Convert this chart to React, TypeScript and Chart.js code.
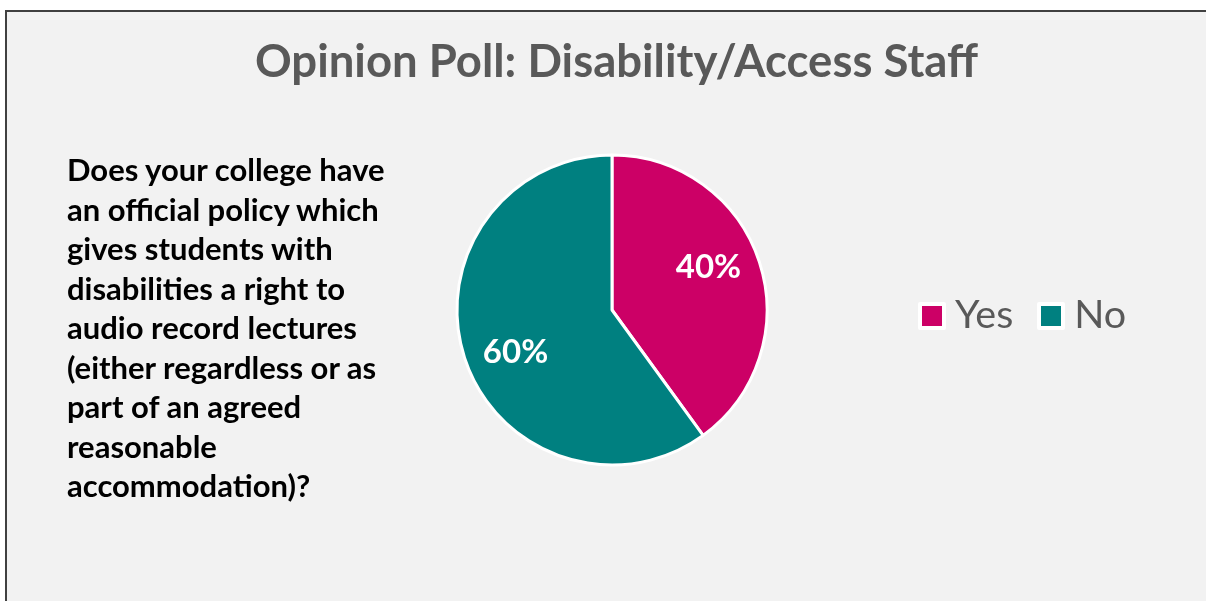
import React, { useEffect, useRef } from "react";
import { Chart, registerables } from "chart.js";

Chart.register(...registerables);

const titleText = "Opinion Poll: Disability/Access Staff";
const questionLines = [
  "Does your college have",
  "an official policy which",
  "gives students with",
  "disabilities a right to",
  "audio record lectures",
  "(either regardless or as",
  "part of an agreed",
  "reasonable",
  "accommodation)?",
];
const categories = ["Yes", "No"];
const values = [40, 60];
const colors = ["#CC0066", "#008080"];

const FONT = "Lato, 'Open Sans', 'DejaVu Sans', sans-serif";

const pctLabelPlugin = {
  id: "pctLabels",
  afterDatasetsDraw(chart: any) {
    const ctx = chart.ctx;
    const meta = chart.getDatasetMeta(0);
    const data = chart.data.datasets[0].data as number[];
    const total = data.reduce((a, b) => a + b, 0);
    ctx.save();
    ctx.fillStyle = "#ffffff";
    ctx.font = `bold 33px ${FONT}`;
    ctx.textAlign = "center";
    ctx.textBaseline = "middle";
    meta.data.forEach((arc: any, i: number) => {
      const p = arc.getProps(["x", "y", "startAngle", "endAngle", "outerRadius"], true);
      const mid = (p.startAngle + p.endAngle) / 2 - 0.1;
      const r = p.outerRadius * 0.68;
      const pct = Math.round((data[i] / total) * 100);
      ctx.fillText(pct + "%", p.x + Math.cos(mid) * r, p.y + Math.sin(mid) * r);
    });
    ctx.restore();
  },
};

export default function App() {
  const canvasRef = useRef<HTMLCanvasElement | null>(null);

  useEffect(() => {
    if (!canvasRef.current) return;
    const chart = new Chart(canvasRef.current, {
      type: "pie",
      data: {
        labels: categories,
        datasets: [
          {
            data: values,
            backgroundColor: colors,
            borderColor: "#ffffff",
            borderWidth: 3,
            hoverOffset: 0,
            hoverBorderWidth: 3,
          },
        ],
      },
      options: {
        responsive: false,
        animation: false,
        events: [],
        layout: {
          padding: { left: 455.5, right: 437.5, top: 153.5, bottom: 134.5 },
        },
        plugins: {
          legend: { display: false },
          tooltip: { enabled: false },
          title: { display: false },
        },
      },
      plugins: [pctLabelPlugin],
    });
    return () => chart.destroy();
  }, []);

  return (
    <div
      style={{
        position: "fixed",
        left: 0,
        top: 0,
        width: "100vw",
        height: "100vh",
        background: "#ffffff",
        overflow: "hidden",
      }}
    >
      <div
        style={{
          position: "absolute",
          left: 5,
          top: 10,
          right: -20,
          bottom: -20,
          border: "2px solid #404040",
          background: "#f2f2f2",
        }}
      />
      <canvas
        ref={canvasRef}
        width={1206}
        height={601}
        style={{ position: "absolute", left: 0, top: 0, width: 1206, height: 601 }}
      />
      <div
        style={{
          position: "absolute",
          left: 0,
          top: 36.7,
          width: 1233,
          textAlign: "center",
          fontFamily: FONT,
          fontWeight: 700,
          fontSize: 45.5,
          lineHeight: "45.5px",
          color: "#595959",
          whiteSpace: "nowrap",
        }}
      >
        {titleText}
      </div>
      <div
        style={{
          position: "absolute",
          left: 67,
          top: 150,
          fontFamily: FONT,
          fontWeight: 700,
          fontSize: 31,
          lineHeight: "39.5px",
          color: "#000000",
          whiteSpace: "nowrap",
        }}
      >
        {questionLines.map((l, i) => (
          <div key={i}>{l}</div>
        ))}
      </div>
      <div
        style={{
          position: "absolute",
          left: 918,
          top: 293,
          display: "flex",
          alignItems: "center",
          fontFamily: FONT,
          fontSize: 39.5,
          lineHeight: "39.5px",
          color: "#595959",
          whiteSpace: "nowrap",
        }}
      >
        {categories.map((c, i) => (
          <div
            key={c}
            style={{ display: "flex", alignItems: "center", marginRight: i < categories.length - 1 ? 24 : 0 }}
          >
            <span
              style={{
                display: "inline-block",
                width: 20,
                height: 20,
                border: "4px solid #ffffff",
                borderRadius: 2,
                background: colors[i],
                marginRight: 9,
                marginTop: 6,
              }}
            />
            <span>{c}</span>
          </div>
        ))}
      </div>
    </div>
  );
}
